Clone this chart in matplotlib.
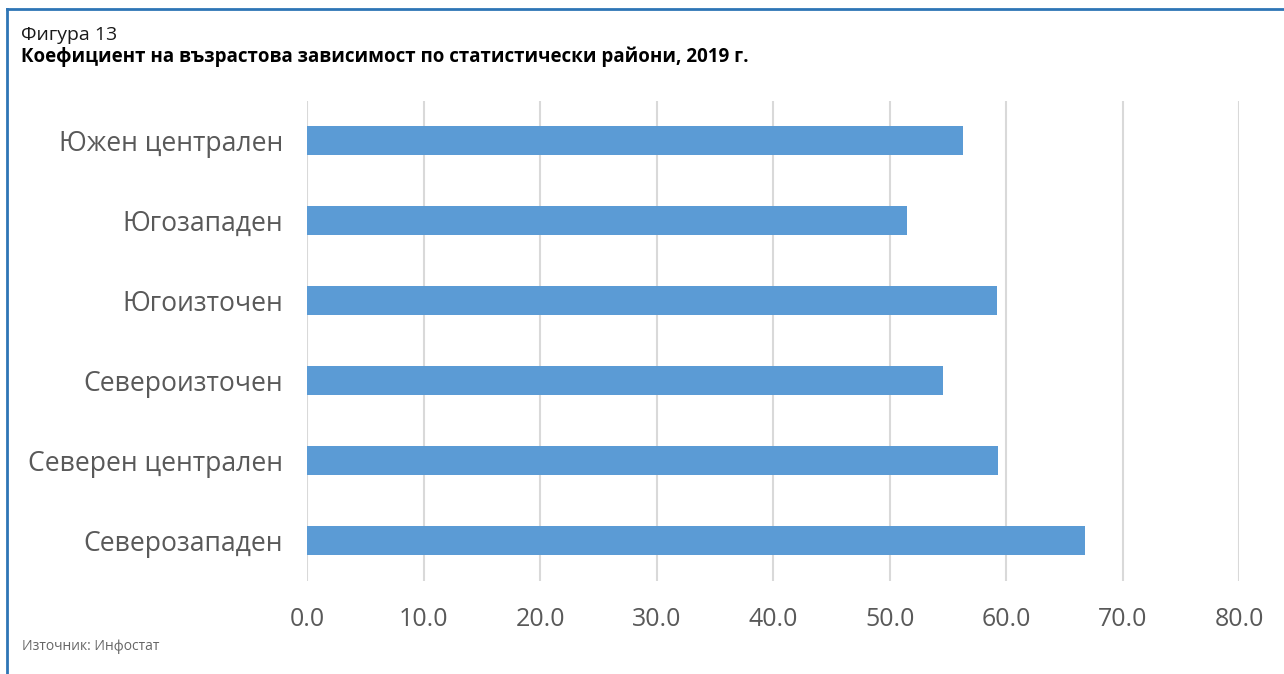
import matplotlib
matplotlib.use("Agg")
import matplotlib.pyplot as plt
from matplotlib.lines import Line2D

plt.rcParams['font.family'] = ['Open Sans', 'Noto Sans', 'DejaVu Sans']

categories = ["Северозападен", "Северен централен", "Североизточен",
              "Югоизточен", "Югозападен", "Южен централен"]
values = [66.8, 59.3, 54.6, 59.2, 51.5, 56.3]
xticks = [0, 10, 20, 30, 40, 50, 60, 70, 80]
xticklabels = ["0.0", "10.0", "20.0", "30.0", "40.0", "50.0", "60.0", "70.0", "80.0"]

W, H = 1284, 674
fig = plt.figure(figsize=(W / 100, H / 100), dpi=100)
fig.patch.set_facecolor("white")

ax = fig.add_axes([307.3 / W, 1 - 580.5 / H, 931.9 / W, 480 / H])
ypos = list(range(len(categories)))
ax.barh(ypos, values, height=0.36, color="#5B9BD5", zorder=3)
ax.set_xlim(0, 80)
ax.set_ylim(-0.5, len(categories) - 0.5)
ax.set_xticks(xticks)
ax.set_xticklabels(xticklabels)
ax.set_yticks(ypos)
ax.set_yticklabels(categories)
ax.tick_params(axis="x", length=0, pad=19, labelsize=18, labelcolor="#595959")
ax.tick_params(axis="y", length=0, pad=17.3, labelsize=19.1, labelcolor="#595959")
ax.grid(axis="x", color="#D9D9D9", linewidth=1.5, zorder=0)
for s in ax.spines.values():
    s.set_visible(False)

# border (top and left)
fig.add_artist(Line2D([6.5 / W, 6.5 / W], [0, 1 - 8.5 / H], transform=fig.transFigure,
                      color="#2E75B6", linewidth=2))
fig.add_artist(Line2D([6.5 / W, 1], [1 - 8.5 / H, 1 - 8.5 / H], transform=fig.transFigure,
                      color="#2E75B6", linewidth=2))

fig.text(21 / W, 1 - 35 / H, "Фигура 13", fontsize=14, color="#1a1a1a",
         ha="left", va="center")
fig.text(21 / W, 1 - 57 / H, "Коефициент на възрастова зависимост по статистически райони, 2019 г.",
         fontsize=13.5, fontweight="bold", color="black", ha="left", va="center")
fig.text(22 / W, 1 - 647 / H, "Източник: Инфостат", fontsize=10, color="#666666",
         ha="left", va="center")

fig.savefig("out.png", dpi=100, facecolor="white")
